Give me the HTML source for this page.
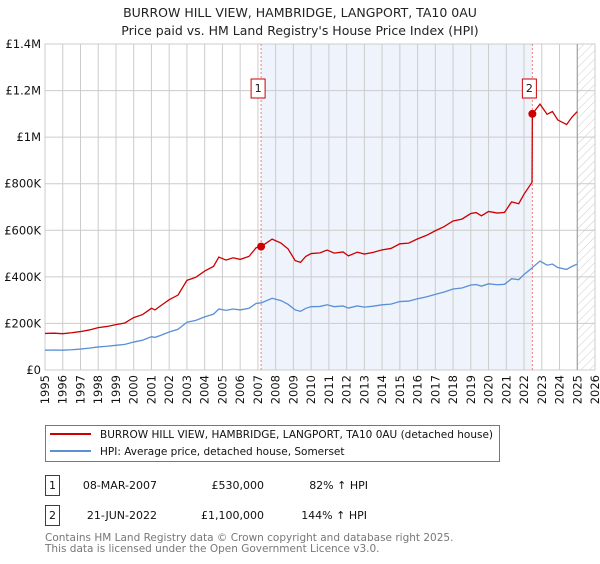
<!DOCTYPE html>
<html><head><meta charset="utf-8"><style>
body{margin:0;background:#fff;width:600px;height:560px;overflow:hidden;font-family:"DejaVu Sans","Liberation Sans",sans-serif}
svg text{font-family:"DejaVu Sans","Liberation Sans",sans-serif}
</style></head><body>
<svg id="chart" width="600" height="560" xmlns="http://www.w3.org/2000/svg">
<defs><pattern id="hatch" width="6" height="6" patternUnits="userSpaceOnUse" patternTransform="rotate(45)"><line x1="0" y1="0" x2="0" y2="6" stroke="#ccc" stroke-width="1"/></pattern></defs>
<text x="300" y="17" text-anchor="middle" font-size="12.5" fill="#222">BURROW HILL VIEW, HAMBRIDGE, LANGPORT, TA10 0AU</text>
<text x="300" y="35" text-anchor="middle" font-size="12.5" fill="#222">Price paid vs. HM Land Registry's House Price Index (HPI)</text>
<g id="plot"></g>
<g id="legend">
<rect x="45.5" y="425.5" width="454" height="36" fill="#fff" stroke="#777"/>
<line x1="50" y1="434" x2="91" y2="434" stroke="#cc0000" stroke-width="2"/>
<text x="100" y="438" font-size="10.5" fill="#111">BURROW HILL VIEW, HAMBRIDGE, LANGPORT, TA10 0AU (detached house)</text>
<line x1="50" y1="451" x2="91" y2="451" stroke="#5b8fd6" stroke-width="2"/>
<text x="100" y="455" font-size="10.5" fill="#111">HPI: Average price, detached house, Somerset</text>
</g>
<g font-size="11" fill="#111">
<rect x="45.5" y="475.5" width="14" height="20" fill="#fff" stroke="#cc0000"/>
<text x="52.5" y="489" text-anchor="middle">1</text>
<text x="157" y="489" text-anchor="end">08-MAR-2007</text>
<text x="264" y="489" text-anchor="end">£530,000</text>
<text x="368" y="489" text-anchor="end">82% ↑ HPI</text>
<rect x="45.5" y="505.5" width="14" height="20" fill="#fff" stroke="#cc0000"/>
<text x="52.5" y="519" text-anchor="middle">2</text>
<text x="157" y="519" text-anchor="end">21-JUN-2022</text>
<text x="264" y="519" text-anchor="end">£1,100,000</text>
<text x="367" y="519" text-anchor="end">144% ↑ HPI</text>
</g>
<text x="45" y="541" font-size="10.5" fill="#777">Contains HM Land Registry data © Crown copyright and database right 2025.</text>
<text x="45" y="552" font-size="10.5" fill="#777">This data is licensed under the Open Government Licence v3.0.</text>
</svg>
<script>
const years=[1995.0,1995.5,1996.0,1996.5,1997.0,1997.5,1998.0,1998.5,1999.0,1999.5,2000.0,2000.5,2001.0,2001.2,2001.5,2002.0,2002.5,2003.0,2003.5,2004.0,2004.5,2004.8,2005.2,2005.6,2006.0,2006.5,2006.9,2007.18,2007.8,2008.3,2008.7,2009.1,2009.4,2009.7,2010.0,2010.5,2010.9,2011.3,2011.8,2012.1,2012.6,2013.0,2013.5,2014.0,2014.5,2015.0,2015.5,2016.0,2016.5,2017.0,2017.5,2018.0,2018.5,2019.0,2019.3,2019.6,2020.0,2020.5,2020.9,2021.3,2021.7,2022.0,2022.45,2022.47,2022.9,2023.3,2023.6,2023.9,2024.4,2024.7,2025.0];
const hpiValues=[85,86,85,87,90,94,99,102,106,110,120,128,143,140,148,163,175,205,213,228,240,262,256,262,258,265,286,288,308,298,282,258,252,265,272,273,280,272,275,266,275,270,274,280,283,294,296,306,314,325,335,348,352,365,367,360,370,366,368,392,388,410,438,440,468,450,455,440,432,445,455];
const priceValues=[157,158,156,160,165,172,182,187,195,202,225,238,265,258,275,302,322,385,398,425,445,485,472,482,475,488,525,530,562,545,520,470,462,488,500,503,515,502,507,490,506,498,505,516,522,542,545,563,578,598,616,640,648,672,676,662,681,674,677,722,714,755,806,1100,1142,1098,1110,1074,1054,1086,1110];
const saleYears=[2007.18,2022.47];
const saleValues=[530,1100];
const saleLabels=["1","2"];
const yTicks=[0,200,400,600,800,1000,1200,1400];
const yTickLabels=["£0","£200K","£400K","£600K","£800K","£1M","£1.2M","£1.4M"];
const xTicks=[1995,1996,1997,1998,1999,2000,2001,2002,2003,2004,2005,2006,2007,2008,2009,2010,2011,2012,2013,2014,2015,2016,2017,2018,2019,2020,2021,2022,2023,2024,2025,2026];
const dataEnd=2025.0;

const L=45,R=595,T=44,B=370;
const x=v=>L+(v-1995)/(2026-1995)*(R-L);
const y=v=>B-v/1400*(B-T);
const NS="http://www.w3.org/2000/svg";
const g=document.getElementById('plot');
function mk(tag,attrs,parent){const e=document.createElementNS(NS,tag);for(const k in attrs)e.setAttribute(k,attrs[k]);(parent||g).appendChild(e);return e;}

const shade=mk('rect',{x:x(saleYears[0]),y:T,width:x(saleYears[1])-x(saleYears[0]),height:B-T,fill:'#eef3fc'});


const hatch=mk('rect',{x:x(dataEnd),y:T,width:R-x(dataEnd),height:B-T,fill:'url(#hatch)'});



xTicks.forEach(t=>{
  const l=mk('line',{x1:x(t),x2:x(t),y1:T,y2:B,stroke:'#ccc','stroke-width':1});
  
  
  const tx=mk('text',{x:0,y:0,'font-size':11.5,fill:'#111','text-anchor':'end',transform:`translate(${x(t)+4},${B+5}) rotate(-90)`});
  tx.textContent=t;
  
  
});
yTicks.forEach((t,i)=>{
  const l=mk('line',{x1:L,x2:R,y1:y(t),y2:y(t),stroke:'#ccc','stroke-width':1});
  
  
  const tx=mk('text',{x:L-4,y:y(t)+4,'font-size':11.5,fill:'#111','text-anchor':'end'});
  tx.textContent=yTickLabels[i];
  
  
});
const frame=mk('rect',{x:L,y:T,width:R-L,height:B-T,fill:'none',stroke:'#ccc'});


const endLine=mk('line',{x1:x(dataEnd),x2:x(dataEnd),y1:T,y2:B,stroke:'#999','stroke-width':1});



saleYears.forEach((s,i)=>{
  const l=mk('line',{x1:x(s),x2:x(s),y1:T,y2:B,stroke:'#f08080','stroke-width':1,'stroke-dasharray':'2,2'});
  
  
});

const hp=mk('polyline',{points:years.map((yr,i)=>x(yr)+','+y(hpiValues[i])).join(' '),fill:'none',stroke:'#5b8fd6','stroke-width':1.3});


const pp=mk('polyline',{points:years.map((yr,i)=>x(yr)+','+y(priceValues[i])).join(' '),fill:'none',stroke:'#cc0000','stroke-width':1.3});



saleYears.forEach((s,i)=>{
  const c=mk('circle',{cx:x(s),cy:y(saleValues[i]),r:4,fill:'#cc0000'});
  
  
  const bx=mk('rect',{x:x(s)-10,y:79,width:14,height:19,fill:'#fff',stroke:'#cc0000'});
  
  
  const t=mk('text',{x:x(s)-3,y:92,'font-size':11,fill:'#111','text-anchor':'middle'});
  t.textContent=saleLabels[i];
  
  
});
</script>
</body></html>
